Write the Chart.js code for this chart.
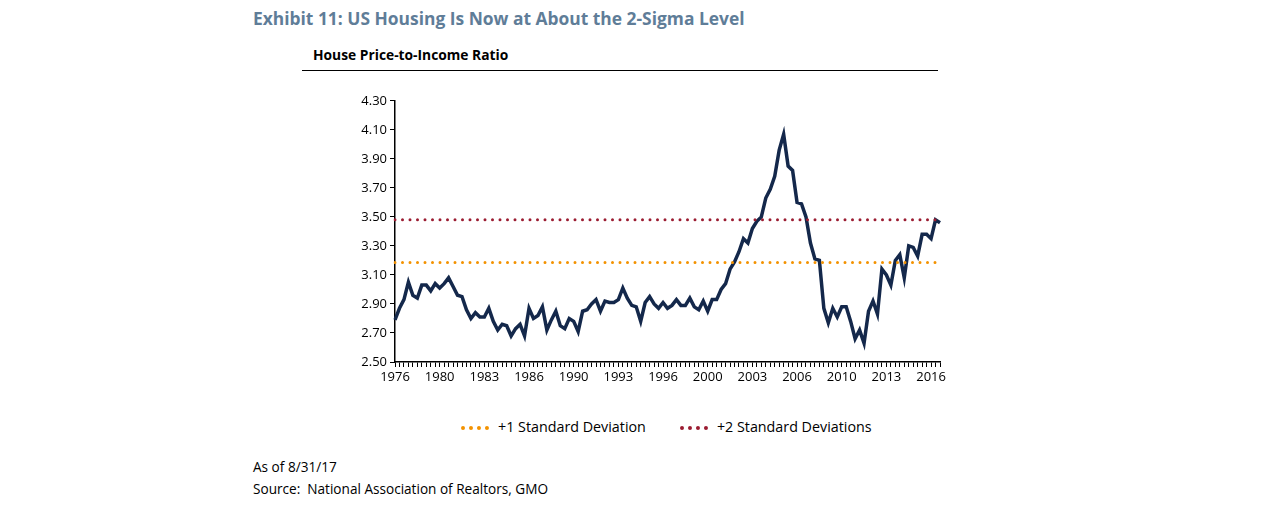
<!DOCTYPE html>
<html>
<head>
<meta charset="utf-8">
<script src="https://cdn.jsdelivr.net/npm/chart.js@4"></script>
<style>
  body { margin: 0; background: #fff; font-family: "Open Sans", Lato, sans-serif; }
  .title { position: absolute; left: 253px; top: 6px; font-size: 17.4px; font-weight: bold; color: #5f7d98; }
  .sub { position: absolute; left: 313px; top: 45px; font-size: 13.8px; font-weight: bold; color: #000; }
  .rule { position: absolute; left: 302px; top: 70px; width: 636px; border-top: 1.5px solid #000; }
  #wrap { position: absolute; left: 340px; top: 90px; width: 616px; height: 302px; }
  .legend { position: absolute; top: 417px; left: 461px; white-space: nowrap; font-size: 14.3px; color: #000; }
  .legend span.item { display: inline-block; margin-right: 34px; }
  .legend span.sw { display: inline-block; width: 28px; vertical-align: middle; margin-right: 9px; border-top: 4px dotted; }
  .foot { position: absolute; left: 253px; font-size: 13.6px; color: #000; }
</style>
</head>
<body>
<div class="title">Exhibit 11: US Housing Is Now at About the 2-Sigma Level</div>
<div class="sub">House Price-to-Income Ratio</div>
<div class="rule"></div>
<div id="wrap"><canvas id="chart"></canvas></div>
<div class="legend">
  <span class="item"><span class="sw" style="border-color:#f39200"></span>+1 Standard Deviation</span><span class="item"><span class="sw" style="border-color:#9b1c31"></span>+2 Standard Deviations</span>
</div>
<div class="foot" style="top:457px">As of 8/31/17</div>
<div class="foot" style="top:479px">Source:&nbsp; National Association of Realtors, GMO</div>
<script>
// axis labels as printed on the original, one every 10 points
const tickLabels = ["1976", "1980", "1983", "1986", "1990", "1993", "1996", "2000", "2003", "2006", "2010", "2013", "2016"];

// house price-to-income ratio
const ratio = [
  2.79, 2.87, 2.93, 3.05, 2.96, 2.94, 3.03, 3.03, 2.99, 3.04,
  3.01, 3.04, 3.08, 3.02, 2.96, 2.95, 2.86, 2.80, 2.84, 2.81,
  2.81, 2.87, 2.78, 2.72, 2.76, 2.75, 2.68, 2.73, 2.76, 2.68,
  2.87, 2.80, 2.82, 2.88, 2.72, 2.79, 2.85, 2.75, 2.73, 2.80,
  2.78, 2.71, 2.85, 2.86, 2.90, 2.93, 2.85, 2.92, 2.91, 2.91,
  2.93, 3.01, 2.94, 2.89, 2.88, 2.78, 2.91, 2.95, 2.90, 2.87,
  2.91, 2.87, 2.89, 2.93, 2.89, 2.89, 2.94, 2.88, 2.86, 2.92,
  2.85, 2.93, 2.93, 3.00, 3.04, 3.14, 3.19, 3.26, 3.35, 3.32,
  3.42, 3.47, 3.50, 3.63, 3.69, 3.78, 3.96, 4.07, 3.85, 3.82,
  3.60, 3.59, 3.50, 3.32, 3.21, 3.20, 2.87, 2.77, 2.87, 2.81,
  2.88, 2.88, 2.78, 2.66, 2.72, 2.63, 2.85, 2.92, 2.83, 3.14,
  3.10, 3.03, 3.20, 3.24, 3.08, 3.30, 3.29, 3.23, 3.38, 3.38,
  3.35, 3.48, 3.46
];

const plusOneSD = 3.185;
const plusTwoSD = 3.48;

const labels = ratio.map((v, i) => (i % 10 === 0 ? tickLabels[i / 10] : ""));

new Chart(document.getElementById("chart"), {
    type: "line",
    data: {
        labels: labels,
        datasets: [
            {
                label: "+2 Standard Deviations",
                data: ratio.map(() => plusTwoSD),
                borderColor: "#9b1c31",
                borderWidth: 3,
                borderDash: [0, 7.5],
                borderCapStyle: "round",
                pointRadius: 0
            },
            {
                label: "+1 Standard Deviation",
                data: ratio.map(() => plusOneSD),
                borderColor: "#f39200",
                borderWidth: 3,
                borderDash: [0, 7.5],
                borderCapStyle: "round",
                pointRadius: 0
            },
            {
                label: "House Price-to-Income Ratio",
                data: ratio,
                borderColor: "#14284b",
                borderWidth: 3.5,
                tension: 0,
                pointRadius: 0
            }
        ]
    },
    options: {
        responsive: true,
        maintainAspectRatio: false,
        animation: false,
        layout: { padding: { top: 9, right: 16 } },
        plugins: { legend: { display: false }, tooltip: { enabled: false } },
        scales: {
            x: {
                offset: false,
                afterFit: (s) => { s.height = 30; },
                grid: { drawOnChartArea: false, color: "#000", tickLength: 5, tickColor: "#000" },
                border: { color: "#000", width: 1.5 },
                ticks: {
                    autoSkip: false,
                    maxRotation: 0,
                    color: "#000",
                    font: { family: "Open Sans", size: 13 },
                    padding: 2
                }
            },
            y: {
                min: 2.5,
                max: 4.3,
                afterFit: (s) => { s.width = 55; },
                grid: { drawOnChartArea: false, tickLength: 5, tickColor: "#000" },
                border: { color: "#000", width: 1.5 },
                ticks: {
                    stepSize: 0.2,
                    color: "#000",
                    font: { family: "Open Sans", size: 13 },
                    callback: (v) => v.toFixed(2)
                }
            }
        }
    }
});
</script>
</body>
</html>
